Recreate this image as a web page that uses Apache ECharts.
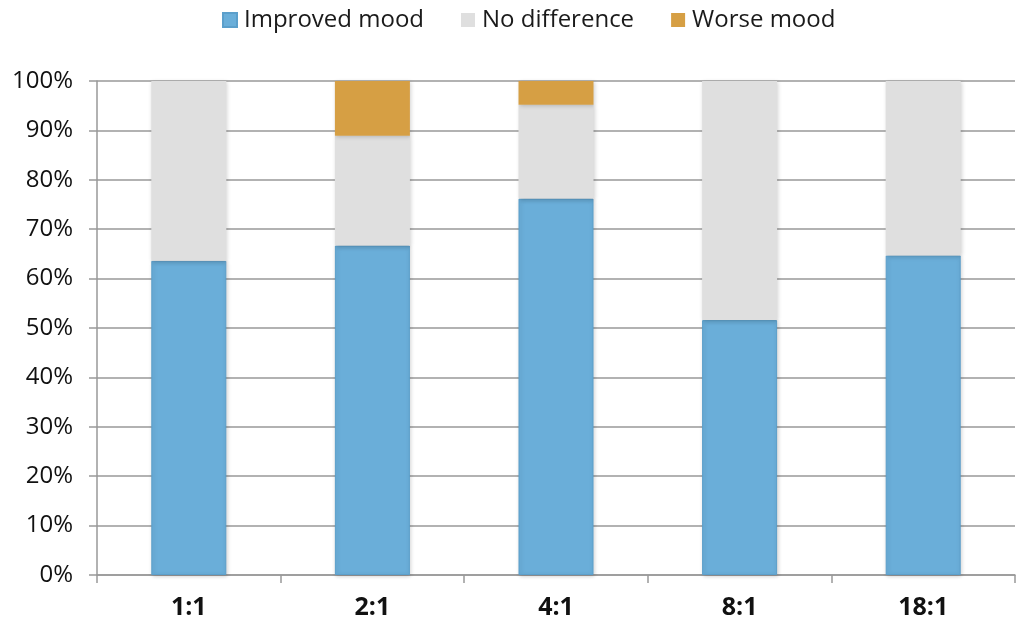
<!DOCTYPE html>
<html><head><meta charset="utf-8">
<script src="https://cdn.jsdelivr.net/npm/echarts@6/dist/echarts.min.js"></script>
<style>html,body{margin:0;padding:0;background:#fff}#c{width:1021px;height:625px}</style>
</head><body><div id="c"></div>
<script>
const categories = ['1:1', '2:1', '4:1', '8:1', '18:1'];
const improved = [63.6, 66.7, 76.2, 51.6, 64.7];
const noDiff = [36.4, 22.2, 19.0, 48.4, 35.3];
const worse = [0, 11.1, 4.8, 0, 0];
const seriesNames = ['Improved mood', 'No difference', 'Worse mood'];
const colors = ['#6aaed9', '#dfdfdf', '#d69f44'];
const font = '"Open Sans", "Noto Sans", sans-serif';
const chart = echarts.init(document.getElementById('c'));
const mk = (name, data, color, border) => ({
  name, type: 'bar', stack: 'a', data, barWidth: 75,
  itemStyle: { color, borderColor: border, borderWidth: border ? 1 : 0,
    shadowColor: 'rgba(0,0,0,0.18)', shadowBlur: 4, shadowOffsetX: 1, shadowOffsetY: 1 },
  emphasis: { disabled: true }
});
chart.setOption({
  animation: false,
  textStyle: { fontFamily: font },
  legend: {
    top: 3, left: 217, itemWidth: 14, itemHeight: 14, itemGap: 37,
    textStyle: { fontSize: 24, color: '#1a1a1a', fontFamily: font, padding: [0, 0, 0, 2] },
    icon: 'rect', data: seriesNames
  },
  grid: { left: 97, right: 6, top: 81, bottom: 50, containLabel: false },
  xAxis: {
    type: 'category', data: categories,
    axisLine: { lineStyle: { color: '#999', width: 1.5 } },
    axisTick: { show: true, length: 8, lineStyle: { color: '#999', width: 1.5 } },
    axisLabel: { fontSize: 25, fontWeight: 'bold', color: '#111', margin: 20, fontFamily: font }
  },
  yAxis: {
    type: 'value', min: 0, max: 100, interval: 10,
    axisLine: { show: true, lineStyle: { color: '#999', width: 1.5 } },
    axisTick: { show: true, length: 8, lineStyle: { color: '#999', width: 1.5 } },
    splitLine: { lineStyle: { color: '#999', width: 1.5 } },
    axisLabel: { fontSize: 24, color: '#111', margin: 24, formatter: v => v + '%', fontFamily: font }
  },
  series: [
    mk(seriesNames[0], improved, colors[0], '#5b9fcb'),
    mk(seriesNames[1], noDiff, colors[1], null),
    mk(seriesNames[2], worse, colors[2], null)
  ]
});
</script></body></html>
